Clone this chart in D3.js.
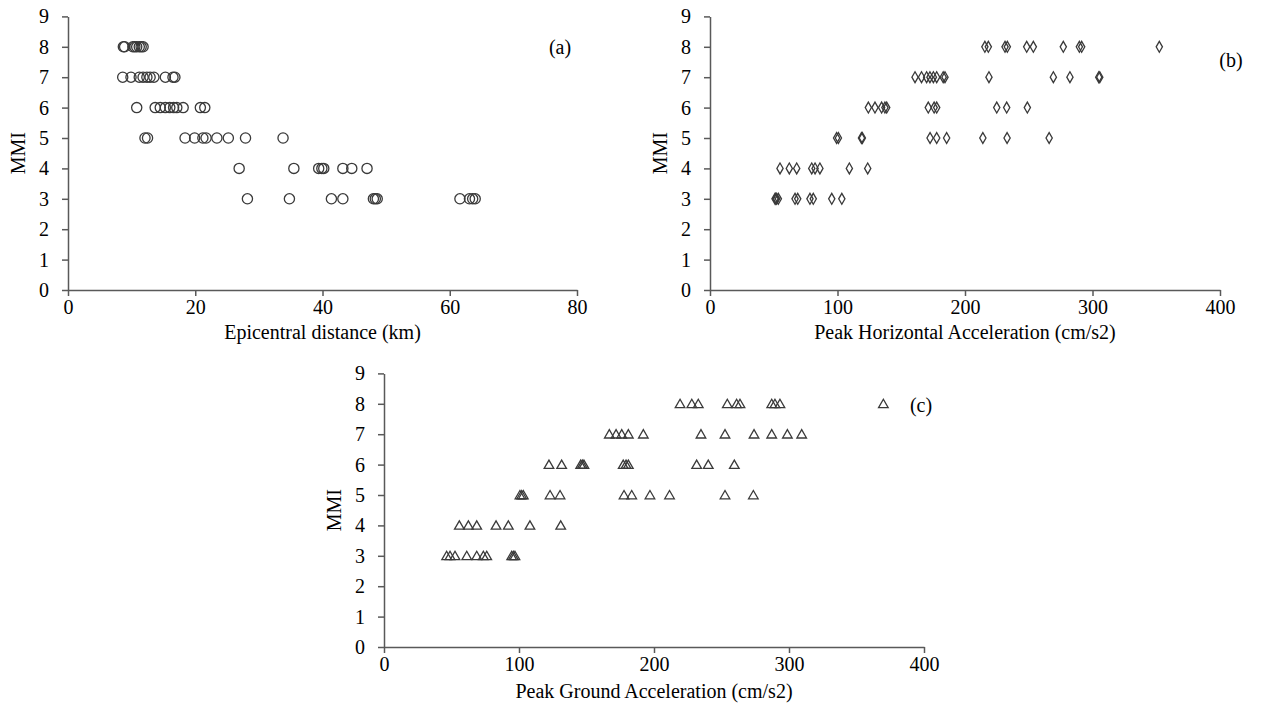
<!DOCTYPE html>
<html>
<head>
<meta charset="utf-8">
<script src="https://cdn.jsdelivr.net/npm/d3@7"></script>
<style>
  body { margin: 0; background: #fff; }
  svg text { font-family: "Liberation Serif", "Times New Roman", serif; fill: #000; }
</style>
</head>
<body>
<svg id="chart" width="1288" height="715"></svg>
<script>
// MMI rows, same order as the nested arrays below
var mmiLevels = [8, 7, 6, 5, 4, 3];

// (a) epicentral distance (km) per MMI row
var epiDist = [
    [8.7, 8.9, 10.2, 10.5, 10.8, 11.2, 11.5, 11.8],
    [8.6, 9.9, 11.2, 11.8, 12.4, 12.9, 13.5, 15.3, 16.5, 16.8],
    [10.8, 13.7, 14.5, 15.3, 16.0, 16.6, 17.1, 18.1, 20.8, 21.5],
    [12.1, 12.5, 18.4, 19.9, 21.2, 21.7, 23.4, 25.2, 27.9, 33.8],
    [26.9, 35.5, 39.4, 39.9, 40.2, 43.2, 44.6, 47.0],
    [28.2, 34.8, 41.4, 43.2, 48.0, 48.3, 48.6, 61.6, 63.1, 63.6, 64.0]
];

// (b) peak horizontal acceleration (cm/s2) per MMI row
var pha = [
    [215.6, 218.3, 231.4, 233.2, 248.4, 253.6, 277.1, 289.7, 291.5, 352.4],
    [160.8, 165.9, 169.9, 172.5, 175.2, 177.8, 182.9, 184.3, 218.8, 269.3, 282.3, 304.9, 305.7],
    [124.2, 129.4, 134.6, 137.2, 138.6, 171.2, 175.8, 177.8, 224.9, 232.7, 248.9],
    [99.3, 100.7, 118.8, 119.5, 172.6, 177.8, 185.6, 214, 233, 266],
    [54.9, 62.2, 68.0, 79.8, 82.4, 86.2, 109.3, 123.7],
    [51.0, 51.6, 52.3, 53.6, 66.7, 68.8, 78.4, 81.0, 95.5, 103.4]
];

// (c) peak ground acceleration (cm/s2) per MMI row
var pga = [
    [219.3, 228, 232.8, 254.3, 261.2, 263.7, 287.2, 289.6, 293.3, 369.9],
    [166.9, 171.9, 176.1, 181, 192.1, 234.8, 252.6, 274.1, 287.2, 298.8, 309.4],
    [122.2, 131.6, 145.7, 146.9, 148.1, 177.2, 179.3, 181, 231.6, 240.2, 259.5],
    [100.7, 102, 103.2, 123, 130.4, 177.8, 183.5, 197, 211.5, 252.6, 273.6],
    [55.8, 62.5, 68.7, 83, 92.1, 108.1, 130.9],
    [46.4, 48.9, 52.6, 61.3, 68.7, 73.6, 76.1, 94.6, 95.8, 97]
];

var xTicksA = [0, 20, 40, 60, 80];
var xTicksB = [0, 100, 200, 300, 400];
var xTicksC = [0, 100, 200, 300, 400];
var yTicks = [0, 1, 2, 3, 4, 5, 6, 7, 8, 9];

var svg = d3.select('#chart');
var axisColor = '#595959';
var markColor = '#3a3a3a';

// flatten nested rows into {x, y} points
var toPoints = function(rows){
    var pts = [];
    for (var i = 0; i < rows.length; i++){
        for (var j = 0; j < rows[i].length; j++){
            pts.push({x: rows[i][j], y: mmiLevels[i]});
        }
    }
    return pts;
};

var panels = [
    {rows: epiDist, max: 80, ticks: xTicksA, left: 68, right: 577, bottom: 290, titleY: 339,
     title: 'Epicentral distance (km)', tag: '(a)', tagX: 560, tagY: 54, shape: 'circle'},
    {rows: pha, max: 400, ticks: xTicksB, left: 710, right: 1220, bottom: 290, titleY: 339,
     title: 'Peak Horizontal Acceleration (cm/s2)', tag: '(b)', tagX: 1231, tagY: 67, shape: 'diamond'},
    {rows: pga, max: 400, ticks: xTicksC, left: 384, right: 924, bottom: 647, titleY: 698,
     title: 'Peak Ground Acceleration (cm/s2)', tag: '(c)', tagX: 921, tagY: 412, shape: 'triangle'}
];

panels.forEach(function(p){
    var x = d3.scaleLinear().domain([0, p.max]).range([p.left, p.right]);
    var y = d3.scaleLinear().domain([0, 9]).range([p.bottom, p.bottom - 9 * 30.4]);
    var g = svg.append('g');

    var xAxis = g.append('g')
        .attr('transform', 'translate(0,' + p.bottom + ')')
        .call(d3.axisBottom(x).tickValues(p.ticks).tickSize(6).tickSizeOuter(0).tickPadding(4));
    var yAxis = g.append('g')
        .attr('transform', 'translate(' + p.left + ',0)')
        .call(d3.axisLeft(y).tickValues(yTicks).tickSize(6).tickSizeOuter(0).tickPadding(13));

    [xAxis, yAxis].forEach(function(a){
        a.select('.domain').attr('stroke', axisColor).attr('stroke-width', 1.5);
        a.selectAll('.tick line').attr('stroke', axisColor).attr('stroke-width', 1.5);
        a.selectAll('.tick text').attr('font-size', '20px')
            .attr('font-family', '"Liberation Serif", serif').attr('fill', '#000');
    });

    g.append('text')
        .attr('x', (p.left + p.right) / 2)
        .attr('y', p.titleY)
        .attr('text-anchor', 'middle')
        .attr('font-size', '20px')
        .text(p.title);

    g.append('text')
        .attr('transform', 'translate(' + (p.left - 43) + ',' + y(4.5) + ') rotate(-90)')
        .attr('text-anchor', 'middle')
        .attr('font-size', '20px')
        .text('MMI');

    g.append('text')
        .attr('x', p.tagX)
        .attr('y', p.tagY)
        .attr('text-anchor', 'middle')
        .attr('font-size', '20px')
        .text(p.tag);

    var pts = toPoints(p.rows);
    var sym;
    if (p.shape === 'circle') sym = d3.symbol().type(d3.symbolCircle).size(82);
    else if (p.shape === 'diamond') sym = d3.symbol().type(d3.symbolDiamond).size(34);
    else sym = d3.symbol().type(d3.symbolTriangle).size(40);

    g.append('g').selectAll('path')
        .data(pts).enter()
        .append('path')
        .attr('d', sym)
        .attr('transform', function(d){
            var dy = p.shape === 'triangle' ? 1 : 0;
            return 'translate(' + x(d.x) + ',' + (y(d.y) + dy) + ')';
        })
        .attr('fill', 'none')
        .attr('stroke', markColor)
        .attr('stroke-width', 1.3);
});
</script>
</body>
</html>
